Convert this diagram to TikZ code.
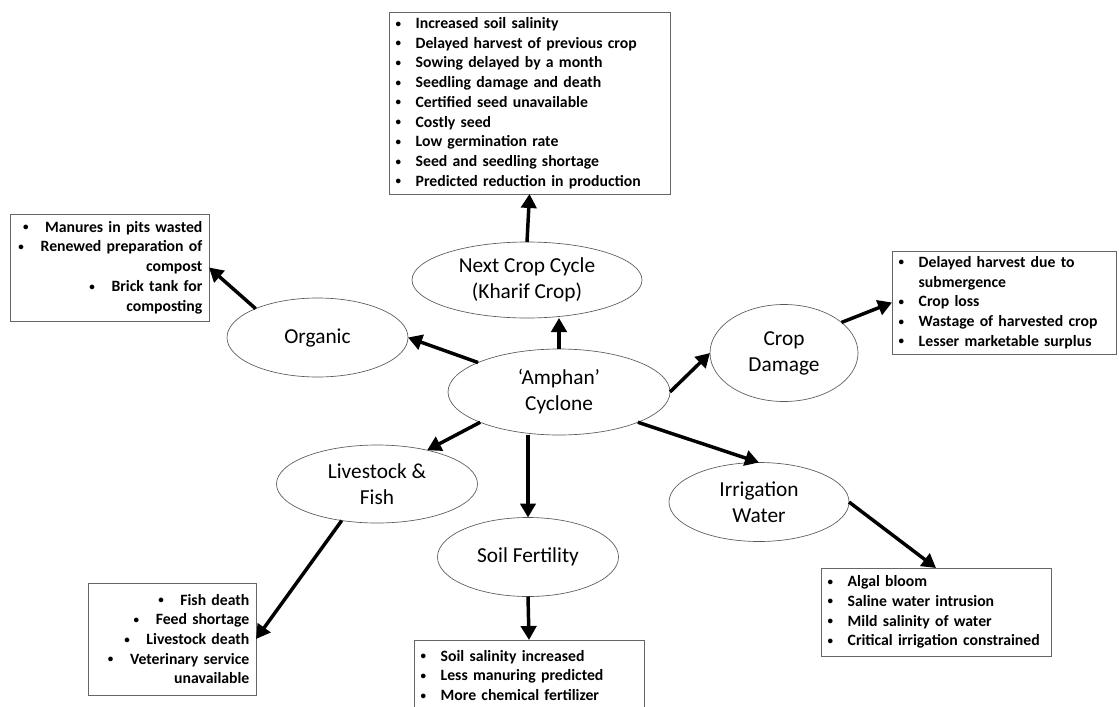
\documentclass[tikz,border=0pt]{standalone}
\usepackage{fontspec}
\setmainfont{Carlito}
\usetikzlibrary{arrows.meta,shapes.geometric}

\newcommand{\bul}{\makebox[15pt][l]{\raisebox{1pt}{\scalebox{0.7}{\textbullet}}}}
\newcommand{\rbul}{\raisebox{1pt}{\scalebox{0.7}{\textbullet}}\hspace{12.5pt}}

\begin{document}
\begin{tikzpicture}[x=0.75pt,y=-0.75pt,
	topic/.style={shape=ellipse,draw=black!65,line width=0.5pt,inner sep=0pt,outer sep=0pt,
		align=center,font=\fontsize{16}{19.5}\selectfont},
	effects/.style={shape=rectangle,draw=black!60,line width=0.5pt,inner xsep=5pt,inner ysep=0pt,
		outer sep=0pt,font=\bfseries\fontsize{11.8}{14.8}\selectfont},
	arr/.style={line width=2.6pt,-{Triangle[length=10.5pt,width=11.5pt]}}]
	\useasboundingbox (0,0) rectangle (1119,706);

	\node[topic,minimum width=166.5pt,minimum height=64.5pt] (amphan) at (559,392) {`Amphan'\\Cyclone};
	\node[topic,minimum width=172.5pt,minimum height=57pt] (next) at (527,280) {Next Crop Cycle\\(Kharif Crop)};
	\node[topic,minimum width=135.75pt,minimum height=59.25pt] (organic) at (317.5,337.5) {Organic};
	\node[topic,minimum width=111pt,minimum height=72.75pt] (damage) at (784,353) {Crop\\Damage};
	\node[topic,minimum width=150.75pt,minimum height=58.5pt] (livestock) at (377,484) {Livestock \&\\Fish};
	\node[topic,minimum width=135.75pt,minimum height=59.25pt] (soil) at (528,557) {Soil Fertility};
	\node[topic,minimum width=135pt,minimum height=59.25pt] (irrig) at (759,502) {Irrigation\\Water};

	\node[effects,text width=200.75pt,minimum height=136.5pt,align=left] (nextbox) at (529.5,103) {%
		\bul Increased soil salinity\\
		\bul Delayed harvest of previous crop\\
		\bul Sowing delayed by a month\\
		\bul Seedling damage and death\\
		\bul Certified seed unavailable\\
		\bul Costly seed\\
		\bul Low germination rate\\
		\bul Seed and seedling shortage\\
		\bul Predicted reduction in production};
	\node[effects,text width=139.25pt,minimum height=80.25pt,align=right] (organicbox) at (109.5,267.5) {%
		\rbul Manures in pits wasted\\
		\rbul Renewed preparation of\\
		compost\\
		\rbul Brick tank for\\
		composting};
	\node[effects,text width=158pt,minimum height=77.25pt,align=left] (damagebox) at (1004,302.5) {%
		\bul Delayed harvest due to\\
		\hspace*{15pt}submergence\\
		\bul Crop loss\\
		\bul Wastage of harvested crop\\
		\bul Lesser marketable surplus};
	\node[effects,text width=116pt,minimum height=84pt,align=right] (livestockbox) at (172,639) {%
		\rbul Fish death\\
		\rbul Feed shortage\\
		\rbul Livestock death\\
		\rbul Veterinary service\\
		unavailable};
	\node[effects,text width=162.5pt,minimum height=53.25pt,align=left] (soilbox) at (529,675.5) {%
		\bul Soil salinity increased\\
		\bul Less manuring predicted\\
		\bul More chemical fertilizer};
	\node[effects,text width=162.5pt,minimum height=66pt,align=left] (irrigbox) at (936,612) {%
		\bul Algal bloom\\
		\bul Saline water intrusion\\
		\bul Mild salinity of water\\
		\bul Critical irrigation constrained};

	\path [arr] (amphan.north) edge (amphan.north |- next.south);
	\path [arr] (next.north) edge (nextbox.south);
	\path [arr] (amphan.160) edge (organic.east);
	\path [arr] (organic.155) edge (organicbox.east);
	\path [arr] (amphan.east) edge (damage.west);
	\path [arr] (damage.28) edge (damagebox.west);
	\path [arr] (amphan.-159) edge (livestock.34);
	\path [arr] (livestock.226) edge (livestockbox.east);
	\path [arr] (amphan.south -| soil.north) edge (soil.north);
	\path [arr] (soil.south) edge (soilbox.north);
	\path [arr] (amphan.-21) edge (irrig.north);
	\path [arr] (irrig.east) edge (irrigbox.north);
\end{tikzpicture}
\end{document}
